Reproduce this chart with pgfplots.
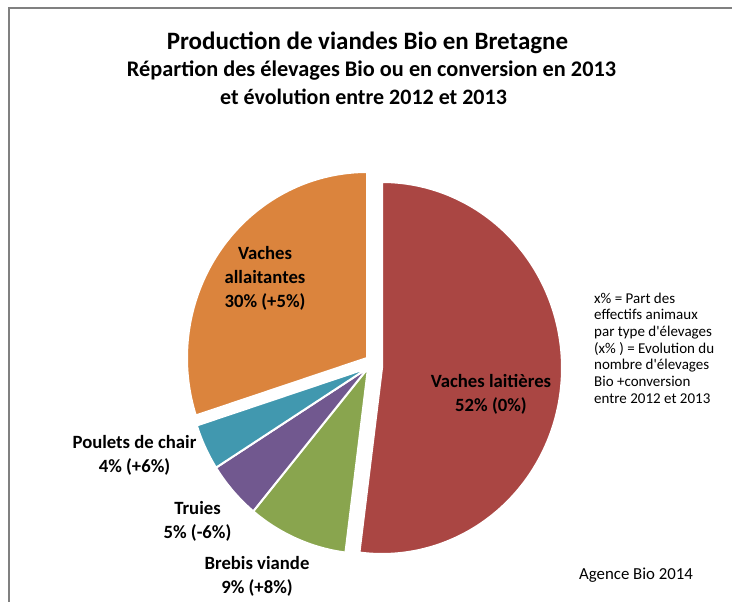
\documentclass[border=0pt]{standalone}
\usepackage{fontspec}
\setmainfont{Carlito}[Ligatures=TeXOff]
\usepackage{pgfplots}
\usepackage{pgfplotstable}
\pgfplotsset{compat=1.18}
\definecolor{cRed}{HTML}{AA4643}
\definecolor{cGreen}{HTML}{89A54E}
\definecolor{cPurple}{HTML}{71588F}
\definecolor{cTeal}{HTML}{4198AF}
\definecolor{cOrange}{HTML}{DB843D}
% shares (%): Vaches laitieres 52, Brebis viande 9, Truies 5, Poulets de chair 4, Vaches allaitantes 30
% slice angles: start at 90 deg, clockwise, 3.6 deg per percent
\begin{document}
\begin{tikzpicture}
\useasboundingbox (0,0) rectangle (732pt,602pt);
\begin{axis}[at={(0,0)}, anchor=south west, width=732pt, height=602pt, scale only axis,
  xmin=0, xmax=732, ymin=0, ymax=602, hide axis, clip=false]
% Vaches laitieres 52% : 90 -> -97.2 (exploded)
\addplot[fill=cRed, draw=white, line width=2pt, domain=-97.2:90, samples=120, variable=\t]
  ({382+180*cos(\t)},{234+186*sin(\t)}) -- (axis cs:382,234) -- cycle;
% Brebis viande 9% : -97.2 -> -129.6
\addplot[fill=cGreen, draw=white, line width=2pt, domain=-129.6:-97.2, samples=30, variable=\t]
  ({368+180*cos(\t)},{234+186*sin(\t)}) -- (axis cs:368,234) -- cycle;
% Truies 5% : -129.6 -> -147.6
\addplot[fill=cPurple, draw=white, line width=2pt, domain=-147.6:-129.6, samples=20, variable=\t]
  ({368+180*cos(\t)},{234+186*sin(\t)}) -- (axis cs:368,234) -- cycle;
% Poulets de chair 4% : -147.6 -> -162
\addplot[fill=cTeal, draw=white, line width=2pt, domain=-162:-147.6, samples=20, variable=\t]
  ({368+180*cos(\t)},{234+186*sin(\t)}) -- (axis cs:368,234) -- cycle;
% Vaches allaitantes 30% : -162 -> -270 (i.e. 198 -> 90), exploded
\addplot[fill=cOrange, draw=white, line width=2pt, domain=90:198, samples=80, variable=\t]
  ({367+180*cos(\t)},{244+186*sin(\t)}) -- (axis cs:367,244) -- cycle;
% frame
\draw[black!50, line width=1.5pt] (axis cs:9,0) -- (axis cs:9,594) -- (axis cs:732,594);
% titles
\node[anchor=base, font=\fontsize{25}{29}\selectfont\bfseries] at (axis cs:367.5,552) {Production de viandes Bio en Bretagne};
\node[anchor=base, font=\fontsize{22.3}{26}\selectfont\bfseries] at (axis cs:371.5,525) {Répartion des élevages Bio ou en conversion en 2013};
\node[anchor=base, font=\fontsize{22}{26}\selectfont\bfseries] at (axis cs:363.5,497) {et évolution entre 2012 et 2013};
% slice labels
\begin{scope}[every node/.style={align=center, font=\fontsize{18.7}{24}\selectfont\bfseries}]
\node at (axis cs:265,324) {Vaches\\allaitantes\\30\% (+5\%)};
\node at (axis cs:491,208) {Vaches laitières\\52\% (0\%)};
\node at (axis cs:134.5,147) {Poulets de chair\\4\% (+6\%)};
\node at (axis cs:197.5,80.5) {Truies\\5\% (-6\%)};
\node at (axis cs:257,26) {Brebis viande\\9\% (+8\%)};
\end{scope}
% note
\node[anchor=west, align=left, inner sep=0pt, font=\fontsize{15}{16.7}\selectfont] at (axis cs:594,254)
  {x\% = Part des\\effectifs animaux\\par type d'élevages\\(x\% ) = Evolution du\\nombre d'élevages\\Bio +conversion\\entre 2012 et 2013};
\node[anchor=west, inner sep=0pt, font=\fontsize{16.8}{19}\selectfont] at (axis cs:579,27) {Agence Bio 2014};
\end{axis}
\end{tikzpicture}
\end{document}
